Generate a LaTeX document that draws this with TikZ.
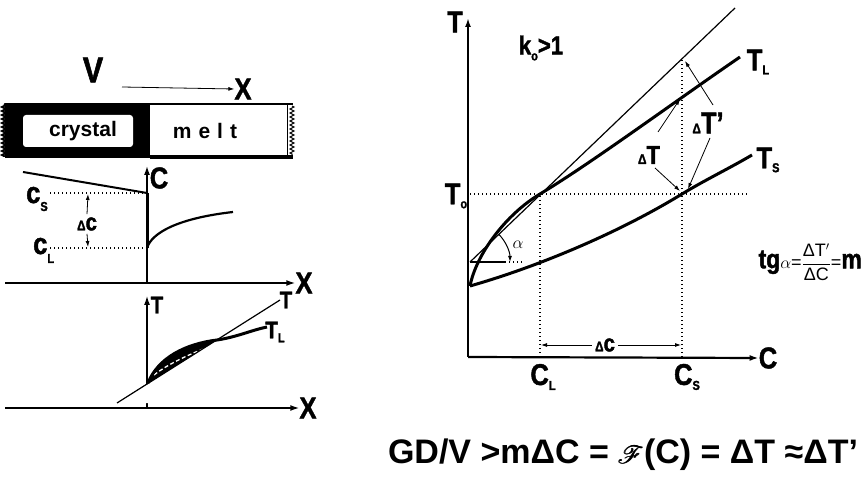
\documentclass[tikz,border=0pt]{standalone}
\usepackage{fontspec}
\usepackage{amsmath,mathrsfs}
\setmainfont{Liberation Sans}
\newfontfamily\cnd[FakeStretch=0.85, BoldFeatures={FakeBold=1.5}]{Liberation Sans}
\usetikzlibrary{arrows.meta,decorations.pathmorphing}

\newcommand{\sbs}[2][3pt]{\raisebox{-#1}{\fontsize{13}{13}\selectfont #2}}
\newcommand{\dlt}{{\fontsize{14}{14}\selectfont Δ}}

\tikzset{
  lab/.style={font=\cnd\bfseries\fontsize{30}{30}\selectfont, inner sep=0pt},
  labs/.style={font=\cnd\bfseries\fontsize{24}{24}\selectfont, inner sep=0pt},
  word/.style={font=\bfseries\fontsize{21}{21}\selectfont, inner sep=0pt},
  axis/.style={line width=1.5pt, -{Latex[length=9pt,width=6pt]}},
  dots/.style={line width=1.3pt, dash pattern=on 1.3pt off 2.7pt},
  tip/.style={line width=0.8pt, -{Latex[length=6pt,width=4pt]}},
  curve/.style={line width=3pt},
  zz/.style={decorate, decoration={zigzag, segment length=4pt, amplitude=2pt}}
}

\begin{document}
\begin{tikzpicture}[x=1pt,y=-1pt]
\useasboundingbox (0,0) rectangle (865,478);

% crystal / melt bar
\fill (5,103) rectangle (150,158);
\draw[line width=2pt, zz] (4,104) -- (4,157);
\fill[white, rounded corners=3pt] (23,115) rectangle (133,147);
\draw[line width=2pt] (150,104) -- (293,104);
\draw[line width=3.5pt] (150,157) -- (293,157);
\draw[line width=1pt] (287,105) -- (287,155);
\draw[line width=1pt, zz] (292,106) -- (292,155);
\node[word] (crys) at (83,131) {crystal};
\node[word] (melt) at (205,131) {m\,\,e\,\,l\,\,t};
\node[lab, font=\cnd\bfseries\fontsize{36}{36}\selectfont] (V) at (93,70) {V};
\coordinate (va) at (122,87);
\node[lab] (vx) at (243,89) {X};
\draw[tip] (va) -- (vx.west);

% concentration profile
\coordinate (co) at (147,283);
\coordinate (ctop) at (147,166);
\coordinate (cw) at (5,283);
\coordinate (cs) at (147,193);
\coordinate (cl) at (147,248);
\node[lab] (cx) at (304,283) {X};
\node[lab] (cc) at (159,178) {C};
\draw[axis] (cw) -- (cx.west);
\draw[axis] (co) -- (ctop);
\draw[line width=2pt] (23,172) -- (cs);
\draw[line width=3pt] (cs) -- (cl);
\draw[line width=2.2pt] (cl) .. controls (152,232) and (180,218) .. (233,212);
\draw[dots] (50,193) -- (cs);
\draw[dots] (50,248) -- (cl);
\node[lab, anchor=base west] (lcs) at (26,203) {c\sbs[8pt]{S}};
\node[lab, anchor=base west] (lcl) at (33,254) {c\sbs[9pt]{L}};
\node[labs, inner sep=3pt] (dc) at (87,224) {\dlt c};
\coordinate (dcu) at (88,194);
\coordinate (dcd) at (88,247);
\draw[tip] (dc.north) -- (dcu);
\draw[tip] (dc.south) -- (dcd);

% temperature profile
\coordinate (to) at (147,408);
\coordinate (ttop) at (147,296);
\coordinate (tw) at (5,408);
\node[lab] (tx) at (308,408) {X};
\node[labs] (tt) at (157,305) {T};
\draw[axis, line width=1.2pt] (to) -- (ttop);
\draw[axis] (tw) -- (tx.west);
\coordinate (la) at (117,403);
\coordinate (lb) at (280,300);
\node[labs] (tT) at (286,300) {T};
\fill (148,383) .. controls (158,358) and (185,344) .. (217,340) -- (la) -- cycle;
\fill[white] (148,384) -- (la) -- (148,403) -- cycle;
\draw[white, line width=1.3pt, dash pattern=on 4pt off 2.5pt] (154,375) .. controls (168,364) and (188,355) .. (208,347);
\draw[line width=1.2pt] (la) -- (lb);
\draw[line width=3pt] (148,383) .. controls (158,358) and (185,344) .. (217,340)
  .. controls (237,337) and (252,330) .. (267,327);
\node[labs] (ttl) at (275,332) {T\sbs[4pt]{L}};

% phase diagram
\coordinate (o) at (468,357);
\coordinate (ytop) at (468,18);
\node[lab] (cC) at (768,358) {C};
\node[lab] (yT) at (455,22) {T};
\draw[axis, line width=2.2pt] (o) -- (cC.west);
\draw[axis, line width=2.2pt] (o) -- (ytop);
\node[lab, font=\cnd\bfseries\fontsize{26}{26}\selectfont] (k) at (541,48) {k\sbs[6pt]{o}>1};

\coordinate (p0) at (470,286);
\coordinate (pL) at (540,194);
\coordinate (pS) at (682,194);
\coordinate (qL) at (680,99);
\coordinate (qT) at (682,58);
\coordinate (ta) at (470,262);
\coordinate (tb) at (735,8);

\draw[dots] (540,357) -- (pL);
\draw[dots] (682,357) -- (qT);
\draw[dots] (470,194) -- (748,194);
\draw[line width=1.2pt] (ta) -- (tb);
\draw[line width=1.2pt] (ta) -- (505,262);
\draw[dots] (505,262) -- (522,262);
\draw[line width=1pt, -{Latex[length=6pt,width=4pt]}] (ta) ++(-44:40) arc[start angle=-44, end angle=0, radius=40];
\node[font=\fontsize{17}{17}\selectfont] (al) at (518,245) {$\alpha$};

\draw[curve] (p0) .. controls (476,255) and (505,215) .. (pL)
  .. controls (590,164) and (670,105) .. (740,57);
\draw[curve] (p0) .. controls (540,266) and (620,232) .. (pS)
  .. controls (705,180) and (730,168) .. (752,155);
\node[lab] (tL) at (758,62) {T\sbs[4pt]{L}};
\node[lab] (tS) at (768,160) {T\sbs[4pt]{S}};
\node[lab] (t0) at (456,196) {T\sbs[4pt]{o}};

\node[lab, font=\cnd\bfseries\fontsize{26}{26}\selectfont] (dT) at (649,155) {\dlt T};
\draw[tip] (658,132) -- (qL);
\draw[tip] (655,168) -- (680,191);
\node[lab] (dTp) at (708,123) {\dlt T’};
\draw[tip] (713,105) -- (685,61);
\draw[tip] (710,138) -- (688,189);

\node[lab] (ccl) at (543,377) {C\sbs[5pt]{L}};
\node[lab] (ccs) at (687,377) {C\sbs[5pt]{S}};
\node[labs, fill=white, inner sep=3pt] (dcr) at (605,345) {\dlt c};
\draw[tip] (dcr.west) -- (541,345);
\draw[tip] (dcr.east) -- (681,345);

\node[font=\fontsize{18}{18}\selectfont, inner sep=0pt, anchor=east] (tg) at (862,262)
  {{\cnd\bfseries\fontsize{27}{27}\selectfont tg}$\alpha$=$\dfrac{\mbox{ΔT$'$}}{\mbox{ΔC}}$={\cnd\bfseries\fontsize{27}{27}\selectfont m}};

\node[font=\bfseries\fontsize{34}{34}\selectfont, inner sep=0pt] (gd) at (623,455)
  {GD/V >mΔC = $\pmb{\mathscr{F}}$(C) = ΔT ≈ΔT’};
\end{tikzpicture}
\end{document}
